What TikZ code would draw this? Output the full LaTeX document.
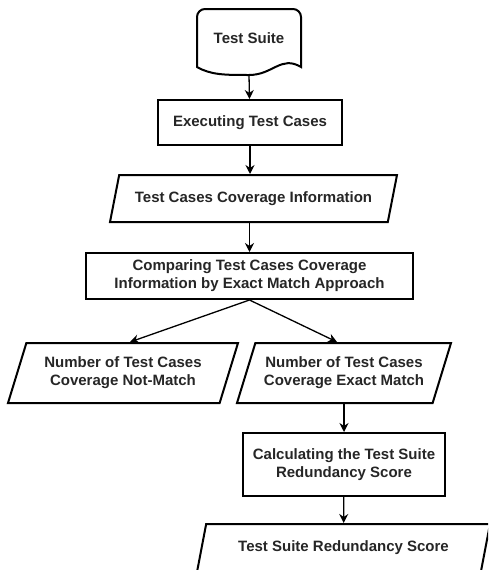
\documentclass[tikz,border=0pt]{standalone}
\usepackage{fontspec}
\setmainfont{Liberation Sans}
\usetikzlibrary{shapes.geometric,arrows.meta}

\begin{document}
\begin{tikzpicture}[x=1pt,y=-1pt,>={Stealth[length=9pt,width=9pt]}]
\tikzstyle{box}=[draw=black,line width=2pt,fill=white,
text=black!85,font=\fontsize{15}{18}\selectfont\bfseries,align=center]
\tikzstyle{process}=[box,rectangle,inner sep=2pt]
\tikzstyle{data}=[box,trapezium,trapezium left angle=63,
trapezium right angle=117,trapezium stretches body,inner sep=2pt]
\tikzstyle{flow}=[line width=1.3pt]

\clip (0,0) rectangle (488,570);
\fill[white] (0,0) rectangle (488,570);

\node[box,draw=none,fill=none,minimum width=102pt,minimum height=56pt] at (249,38) (0) {Test Suite};
\coordinate (0w) at (249,75);
\draw[box] (0.south west) [rounded corners=8pt] -- (0.north west) -- (0.north east) [sharp corners] -- (0.south east)
 .. controls +(-20,-12) and +(24,0) .. (0w) .. controls +(-24,0) and +(14,8) .. (0.south west) -- cycle;
\node at (0) {\fontsize{15}{18}\selectfont\bfseries\color{black!85}Test Suite};
\node[process,minimum width=184pt,minimum height=45pt] at (250,122.5) (1) {Executing Test Cases};
\node[data,minimum width=287pt,minimum height=47pt] at (253.5,198.5) (2) {Test Cases Coverage Information};
\node[process,minimum width=327pt,minimum height=46pt] at (249.5,276) (3) {Comparing Test Cases Coverage\\Information by Exact Match Approach};
\node[data,minimum width=230pt,minimum height=60pt] at (123,373) (4) {Number of Test Cases\\Coverage Not-Match};
\node[data,minimum width=214pt,minimum height=60pt] at (344,373) (5) {Number of Test Cases\\Coverage Exact Match};
\node[process,minimum width=202pt,minimum height=63pt] at (344,464.5) (6) {Calculating the Test Suite\\Redundancy Score};
\node[data,minimum width=293pt,minimum height=48pt] at (343.5,548) (7) {Test Suite Redundancy Score};

\path[->,flow] (0w) edge (1) ;
\path[->,flow] (1) edge (1.south |- 2.north) ;
\path[->,flow] (2.south -| 3.north) edge (3) ;
\path[->,flow] (3.south) edge ([xshift=7pt]4.north) ;
\path[->,flow] (3.south) edge ([xshift=-7pt]5.north) ;
\path[->,flow] (5) edge (6) ;
\path[->,flow] (6) edge (7) ;

\end{tikzpicture}
\end{document}
